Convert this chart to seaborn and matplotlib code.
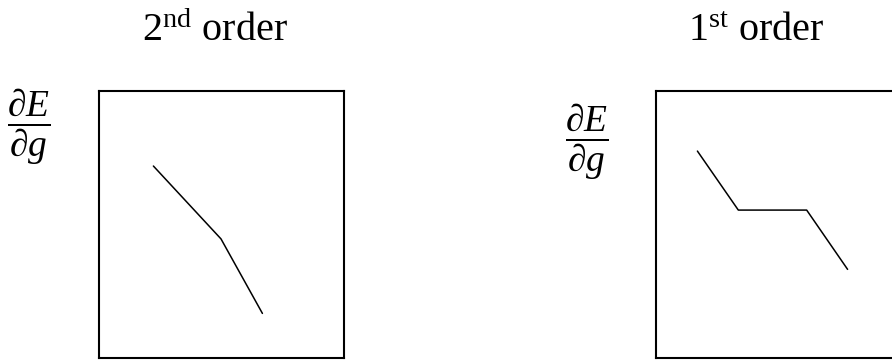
import numpy as np
import pandas as pd
import matplotlib
matplotlib.use('Agg')
import matplotlib.pyplot as plt
import seaborn as sns

# Sketch data (box coordinates 0-10 on both axes)
second_x = [2.22, 4.98, 6.67]
second_y = [7.19, 4.46, 1.67]
first_x = [1.69, 3.36, 6.15, 7.82]
first_y = [7.75, 5.54, 5.54, 3.32]
titles = ["2$^{\\mathrm{nd}}$ order", "1$^{\\mathrm{st}}$ order"]
ylabel = r"$\dfrac{\partial E}{\partial g}$"

sns.set_style('white')
plt.rcParams['font.family'] = ['Liberation Serif', 'DejaVu Serif']
plt.rcParams['text.color'] = 'black'
plt.rcParams['mathtext.fontset'] = 'custom'
plt.rcParams['mathtext.rm'] = 'Liberation Serif'
plt.rcParams['mathtext.it'] = 'Liberation Serif:italic'
plt.rcParams['mathtext.bf'] = 'Liberation Serif:bold'

fig = plt.figure(figsize=(8.92, 3.61), dpi=100)

panels = [
    (pd.DataFrame({'x': second_x, 'y': second_y}), [99 / 892, 3 / 361, 245 / 892, 267 / 361]),
    (pd.DataFrame({'x': first_x, 'y': first_y}), [656 / 892, 3 / 361, 245 / 892, 267 / 361]),
]

for df, pos in panels:
    ax = fig.add_axes(pos)
    sns.lineplot(data=df, x='x', y='y', ax=ax, color='black', linewidth=1.1,
                 estimator=None, sort=False)
    ax.set_xlim(0, 10)
    ax.set_ylim(0, 10)
    ax.set_xticks([])
    ax.set_yticks([])
    ax.set_xlabel('')
    ax.set_ylabel('')
    for sp in ax.spines.values():
        sp.set_visible(True)
        sp.set_color('black')
        sp.set_linewidth(1.5)

# titles
fig.text(215 / 892, 1 - 41 / 361, titles[0], ha='center', va='baseline', fontsize=29)
fig.text(756 / 892, 1 - 41 / 361, titles[1], ha='center', va='baseline', fontsize=29)

# y labels as fractions
fig.text(29 / 892, 1 - 127 / 361, ylabel, ha='center', va='center', fontsize=27)
fig.text(587 / 892, 1 - 142 / 361, ylabel, ha='center', va='center', fontsize=27)

fig.savefig('out.png', dpi=100)
plt.close(fig)
